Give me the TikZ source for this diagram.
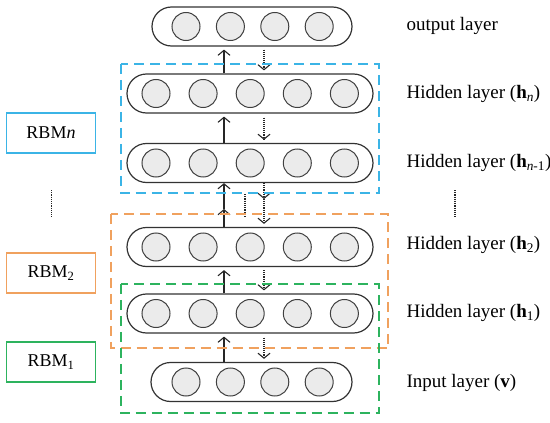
\documentclass[tikz,border=0pt]{standalone}
\usepackage{fontspec}
\setmainfont{Liberation Serif}
\usetikzlibrary{calc}
\usetikzlibrary{positioning}
\usetikzlibrary{arrows.meta}

\definecolor{rbmblue}{HTML}{3BB4E6}
\definecolor{rbmorange}{HTML}{F0A15E}
\definecolor{rbmgreen}{HTML}{2DB35E}

\tikzset{
  layer/.style={draw=black!80, line width=1.2pt, rounded corners=19.5pt,
    minimum height=39pt, inner sep=0pt},
  unit/.style={circle, draw=black!75, fill=black!8, line width=1pt,
    minimum size=28pt, inner sep=0pt},
  uparrow/.style={draw=black!85, line width=1.1pt, -{Straight Barb[length=5pt,width=12pt]}},
  downarrow/.style={draw=black!85, line width=1.1pt, densely dotted,
    -{Straight Barb[length=5pt,width=12pt]}},
  rbmbox/.style={draw=#1, line width=1.3pt, minimum width=89pt, minimum height=40pt,
    font=\fontsize{18}{21}\selectfont},
  rbmframe/.style={draw=#1, line width=1.7pt, dash pattern=on 10pt off 6pt},
  lbl/.style={anchor=west, font=\fontsize{19}{22}\selectfont},
}

\begin{document}
\begin{tikzpicture}[x=1pt,y=-1pt]
\useasboundingbox (0,0) rectangle (550,423);

% layers
\node[layer, minimum width=200pt] (out) at (252,26.5) {};
\node[layer, minimum width=246pt] (hn) at (250,93.5) {};
\node[layer, minimum width=246pt] (hn1) at (250,163) {};
\node[layer, minimum width=246pt] (h2) at (250,247) {};
\node[layer, minimum width=246pt] (h1) at (250,313.5) {};
\node[layer, minimum width=201pt] (in) at (251.5,382) {};

% units
\foreach \i in {0,...,3} {
  \node[unit] (out-\i) at (186+\i*44.4,26.5) {};
  \node[unit] (in-\i) at (186+\i*44.4,382) {};
}
\foreach \i in {0,...,4} {
  \node[unit] (hn-\i) at (156+\i*47.1,93.5) {};
  \node[unit] (hna-\i) at (156+\i*47.1,163) {};
  \node[unit] (hb-\i) at (156+\i*47.1,247) {};
  \node[unit] (ha-\i) at (156+\i*47.1,313.5) {};
}

% arrows
\coordinate (upx) at (224,0);
\coordinate (dnx) at (264,0);
\draw[uparrow, shorten >=3pt] (hn.north -| upx) -- (out.south -| upx);
\draw[downarrow, shorten <=3pt, shorten >=3pt] (out.south -| dnx) -- (hn.north -| dnx);
\draw[uparrow, shorten >=3pt] (hn1.north -| upx) -- (hn.south -| upx);
\draw[downarrow, shorten <=4pt, shorten >=3pt] (hn.south -| dnx) -- (hn1.north -| dnx);
\coordinate (midup) at (224,209);
\coordinate (middn) at (264,199);
\draw[uparrow] (h2.north -| upx) -- (midup);
\draw[uparrow] (midup) -- (hn1.south -| upx);
\draw[downarrow] (hn1.south -| dnx) -- (middn);
\draw[downarrow, shorten >=3pt] (middn) -- (h2.north -| dnx);
\draw[black!85, line width=1.2pt, densely dotted] (245,194) -- (245,218);
\draw[uparrow, shorten >=3pt] (h1.north -| upx) -- (h2.south -| upx);
\draw[downarrow, shorten <=3pt, shorten >=3pt] (h2.south -| dnx) -- (h1.north -| dnx);
\draw[uparrow, shorten >=3pt] (in.north -| upx) -- (h1.south -| upx);
\draw[downarrow, shorten <=4pt, shorten >=3pt] (h1.south -| dnx) -- (in.north -| dnx);

% RBM frames
\draw[rbmframe=rbmblue] ($(hn.north west)+(-5.5,-9.5)$) rectangle ($(hn1.south east)+(5.5,10)$);
\draw[rbmframe=rbmorange] ($(h2.north west)+(-15.5,-13)$) rectangle ($(h1.south east)+(14.5,14.5)$);
\draw[rbmframe=rbmgreen] ($(h1.north west)+(-5.5,-9.5)$) rectangle ($(in.south east)+(26.5,11)$);

% RBM boxes
\node[rbmbox=rbmblue] (rbmn) at (51,133) {RBM\textit{n}};
\node[rbmbox=rbmorange] (rbm2) at (51,273) {RBM\textsubscript{2}};
\node[rbmbox=rbmgreen] (rbm1) at (51,362) {RBM\textsubscript{1}};
\draw[black!85, line width=1.2pt, densely dotted] (51.5,190) -- (51.5,217);

% labels
\node[lbl] (lout) at (403,26) {output layer};
\node[lbl] (lhn) at (403,94) {Hidden layer (\textbf{h}\textsubscript{\textit{n}})};
\node[lbl] (lhn1) at (403,163) {Hidden layer (\textbf{h}\textsubscript{\textit{n}-1})};
\node[lbl] (lh2) at (403,245) {Hidden layer (\textbf{h}\textsubscript{2})};
\node[lbl] (lh1) at (403,313) {Hidden layer (\textbf{h}\textsubscript{1})};
\node[lbl] (lin) at (403,383) {Input layer (\textbf{v})};
\draw[black!85, line width=1.2pt, densely dotted] (455,190) -- (455,217);

\end{tikzpicture}
\end{document}
